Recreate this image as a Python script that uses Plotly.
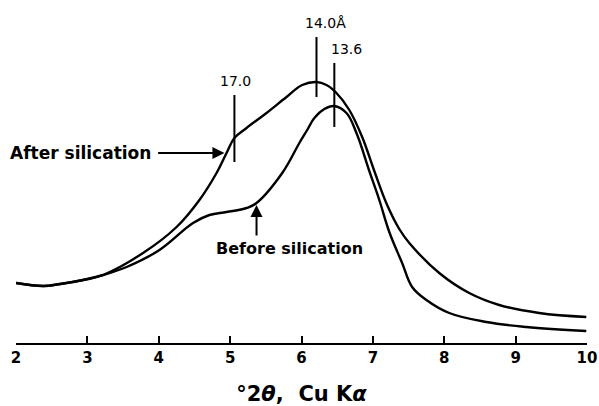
import plotly.graph_objects as go

# ---- data (x: degrees 2-theta, y: relative intensity) ----
after_x = [2.0, 2.38, 2.62, 2.94, 3.22, 3.78, 4.25, 4.57, 4.81, 4.95, 5.06, 5.23, 5.51,
           5.79, 6.01, 6.21, 6.35, 6.49, 6.67, 6.85, 7.02, 7.2, 7.37, 7.51, 7.93, 8.35,
           8.77, 9.33, 9.99]
after_y = [60, 57, 59, 63, 68, 90, 116, 143, 170, 190, 205, 215, 230,
           246, 258, 261, 258, 250, 233, 206, 172, 138, 114, 100, 70, 50,
           38, 30, 26]

before_x = [2.0, 2.38, 2.62, 2.94, 3.22, 3.55, 4.01, 4.48, 4.71, 4.95, 5.23, 5.37, 5.73,
            5.97, 6.08, 6.18, 6.32, 6.46, 6.63, 6.77, 6.95, 7.09, 7.23, 7.41, 7.55, 7.75,
            8.07, 8.59, 9.15, 9.99]
before_y = [60, 57, 59, 63, 68, 76, 93, 120, 128, 131, 135, 140, 170,
            200, 213, 225, 234, 237, 230, 210, 172, 143, 111, 80, 56, 43,
            30, 21, 16, 12]

# d-spacing markers: position, label, bottom, top
marker_x = [5.06, 6.21, 6.46]
marker_labels = ["17.0", "14.0Å", "13.6"]
marker_bottom = [181, 246, 216]
marker_top = [248, 306, 280]

tick_vals = [2, 3, 4, 5, 6, 7, 8, 9, 10]
tick_text = ["2", "3", "4", "5", "6", "7", "8", "9", "10"]

FONT = "DejaVu Sans"
LW = 2.4

fig = go.Figure()
fig.add_trace(go.Scatter(x=after_x, y=after_y, mode="lines",
                         line=dict(color="black", width=LW, shape="spline", smoothing=1.1),
                         hoverinfo="skip", showlegend=False))
fig.add_trace(go.Scatter(x=before_x, y=before_y, mode="lines",
                         line=dict(color="black", width=LW, shape="spline", smoothing=1.1),
                         hoverinfo="skip", showlegend=False))

for mx, lab, yb, yt in zip(marker_x, marker_labels, marker_bottom, marker_top):
    fig.add_trace(go.Scatter(x=[mx, mx], y=[yb, yt], mode="lines",
                             line=dict(color="black", width=2),
                             hoverinfo="skip", showlegend=False))

shifts = [1, 9, 12]
for mx, lab, yt, sh in zip(marker_x, marker_labels, marker_top, shifts):
    fig.add_annotation(x=mx, y=yt, text=lab, showarrow=False, xanchor="center",
                       yanchor="bottom", yshift=4, xshift=sh,
                       font=dict(family=FONT, size=14, color="black"))

# curve labels with arrows
fig.add_annotation(x=3.92, y=190, text="<b>After silication</b>", showarrow=False,
                   xanchor="right", yanchor="middle",
                   font=dict(family=FONT, size=17, color="black"))
fig.add_annotation(x=4.92, y=190, ax=3.97, ay=190, axref="x", ayref="y", text="",
                   showarrow=True, arrowhead=2, arrowsize=1.2, arrowwidth=2,
                   arrowcolor="black", standoff=0)
fig.add_annotation(x=5.83, y=95, text="<b>Before silication</b>", showarrow=False,
                   xanchor="center", yanchor="middle",
                   font=dict(family=FONT, size=16, color="black"))
fig.add_annotation(x=5.37, y=138, ax=5.37, ay=106, axref="x", ayref="y", text="",
                   showarrow=True, arrowhead=2, arrowsize=1.2, arrowwidth=2,
                   arrowcolor="black", standoff=0)

fig.update_layout(
    width=599, height=406,
    margin=dict(l=16, r=12, t=0, b=63),
    paper_bgcolor="white", plot_bgcolor="white",
    xaxis=dict(range=[2, 10], tickvals=tick_vals, ticktext=tick_text,
               ticks="inside", ticklen=7, tickwidth=2, tickcolor="black",
               showline=True, linewidth=2, linecolor="black",
               showgrid=False, zeroline=False,
               tickfont=dict(family=FONT, size=15, color="black", weight="bold"),
               title=dict(text="<b>°2<i>θ</i>,  Cu K<i>α</i></b>", standoff=20,
                          font=dict(family=FONT, size=21, color="black"))),
    yaxis=dict(range=[0, 343], showgrid=False, zeroline=False, showline=False,
               showticklabels=False, ticks=""),
)

fig.write_html("out.html")
